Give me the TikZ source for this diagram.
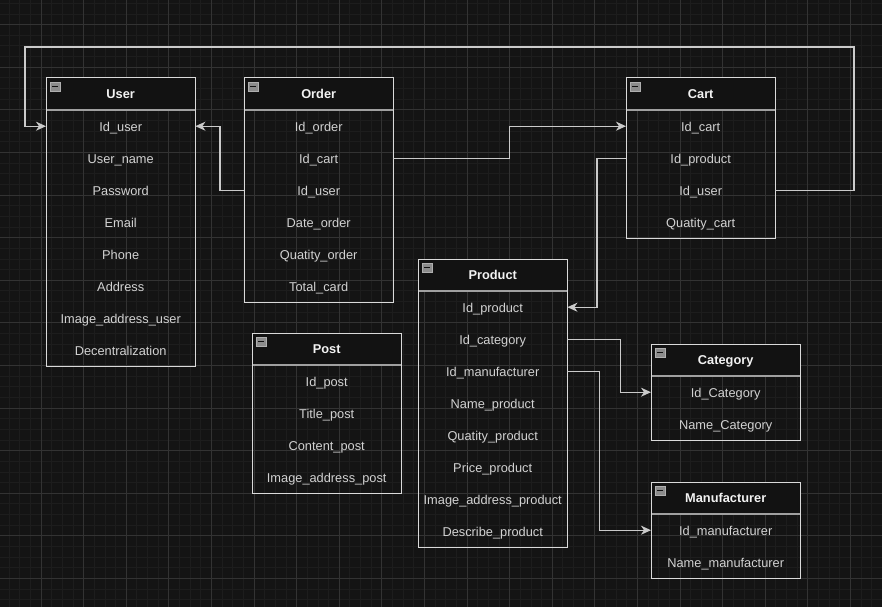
\documentclass[tikz,border=0pt]{standalone}
\usepackage{fontspec}
\setmainfont{Liberation Sans}
\usetikzlibrary{arrows.meta}

\definecolor{canvas}{HTML}{141414}
\definecolor{minorgrid}{HTML}{1D1D1D}
\definecolor{majorgrid}{HTML}{333333}
\definecolor{headfill}{HTML}{121212}
\definecolor{framecol}{HTML}{DADADA}
\definecolor{sepcol}{HTML}{A0A0A0}
\definecolor{headtext}{HTML}{F2F2F2}
\definecolor{rowtext}{HTML}{D2D2D2}
\definecolor{linkcol}{HTML}{CACACA}
\definecolor{iconcol}{HTML}{8C8C8C}

\tikzset{
  tblhead/.style={anchor=north west, fill=headfill, minimum width=149pt, minimum height=32pt,
    inner sep=0pt, text height=8.5pt, text depth=0pt, text=headtext,
    font=\fontsize{12.8}{15}\selectfont\bfseries},
  tblrow/.style={anchor=north west, minimum width=149pt, minimum height=32pt,
    inner sep=0pt, text height=10.5pt, text depth=0pt, text=rowtext,
    font=\fontsize{12.8}{15}\selectfont},
  tblframe/.style={draw=framecol, line width=1pt},
  tblsep/.style={draw=sepcol, line width=2pt},
  tblicon/.style={fill=iconcol, draw=iconcol!70!white, line width=0.6pt},
  link/.style={draw=linkcol, line width=1.3pt, ->},
}

\begin{document}
\begin{tikzpicture}[x=1pt,y=-1pt,>={Stealth[length=10pt,width=9pt,inset=3pt]}]
        \useasboundingbox (0,0) rectangle (882,607);

        % draw the canvas and its grid
        \fill[canvas] (0,0) rectangle (882,607);
        \foreach \k in {0,...,83}
                \draw[minorgrid, line width=0.8pt] ({-1.6+10.65*\k},0) -- ++(0,607);
        \foreach \k in {0,...,56}
                \draw[minorgrid, line width=0.8pt] (0,{3.3+10.65*\k}) -- ++(882,0);
        \foreach \k in {1,...,20}
                \draw[majorgrid, line width=0.8pt] ({-1.6+42.6*\k},0) -- ++(0,607);
        \foreach \k in {0,...,13}
                \draw[majorgrid, line width=0.8pt] (0,{24.6+42.6*\k}) -- ++(882,0);

        % draw the tables
        \foreach \tname/\ttitle/\tx/\ty/\tn/\tfields in {
            user/User/46/78/8/{Id\_user,User\_name,Password,Email,Phone,Address,Image\_address\_user,Decentralization},
            order/Order/244/78/6/{Id\_order,Id\_cart,Id\_user,Date\_order,Quatity\_order,Total\_card},
            cart/Cart/626/78/4/{Id\_cart,Id\_product,Id\_user,Quatity\_cart},
            product/Product/418/259/8/{Id\_product,Id\_category,Id\_manufacturer,Name\_product,Quatity\_product,Price\_product,Image\_address\_product,Describe\_product},
            post/Post/252/333/4/{Id\_post,Title\_post,Content\_post,Image\_address\_post},
            category/Category/651/344/2/{Id\_Category,Name\_Category},
            manufacturer/Manufacturer/651/482/2/{Id\_manufacturer,Name\_manufacturer}} {
                % header with its title
                \node[tblhead] (\tname) at (\tx,\ty) {\ttitle};
                % one row for each field
                \foreach \f [count=\i] in \tfields
                        \node[tblrow] (\tname-\i) at (\tx,{\ty+32*\i}) {\f};
                % outline, header line and the collapse icon
                \draw[tblsep] (\tname.south west) -- (\tname.south east);
                \draw[tblframe] (\tname.north west) rectangle (\tname-\tn.south east);
                \filldraw[tblicon] ([xshift=4pt,yshift=-4pt]\tname.north west) rectangle ++(10,9);
                \draw[headfill, line width=1pt] ([xshift=6pt,yshift=-8.5pt]\tname.north west) -- ++(6,0);
        }

        % corners of the wrap-around link
        \coordinate (wrap-ne) at (854,47);
        \coordinate (wrap-nw) at (25,47);

        % draw the links between the tables
        \draw[link] (cart-3.east) -| (wrap-ne) -- (wrap-nw) |- (user-1.west);
        \draw[link] (order-3.west) -- ++(-24,0) |- (user-1.east);
        \draw[link] (order-2.east) -- ++(116,0) |- (cart-1.west);
        \draw[link] (cart-2.west) -- ++(-29,0) |- (product-1.east);
        \draw[link] (product-2.east) -- ++(53,0) |- (category-1.west);
        \draw[link] (product-3.east) -- ++(32,0) |- (manufacturer-1.west);

\end{tikzpicture}
\end{document}
